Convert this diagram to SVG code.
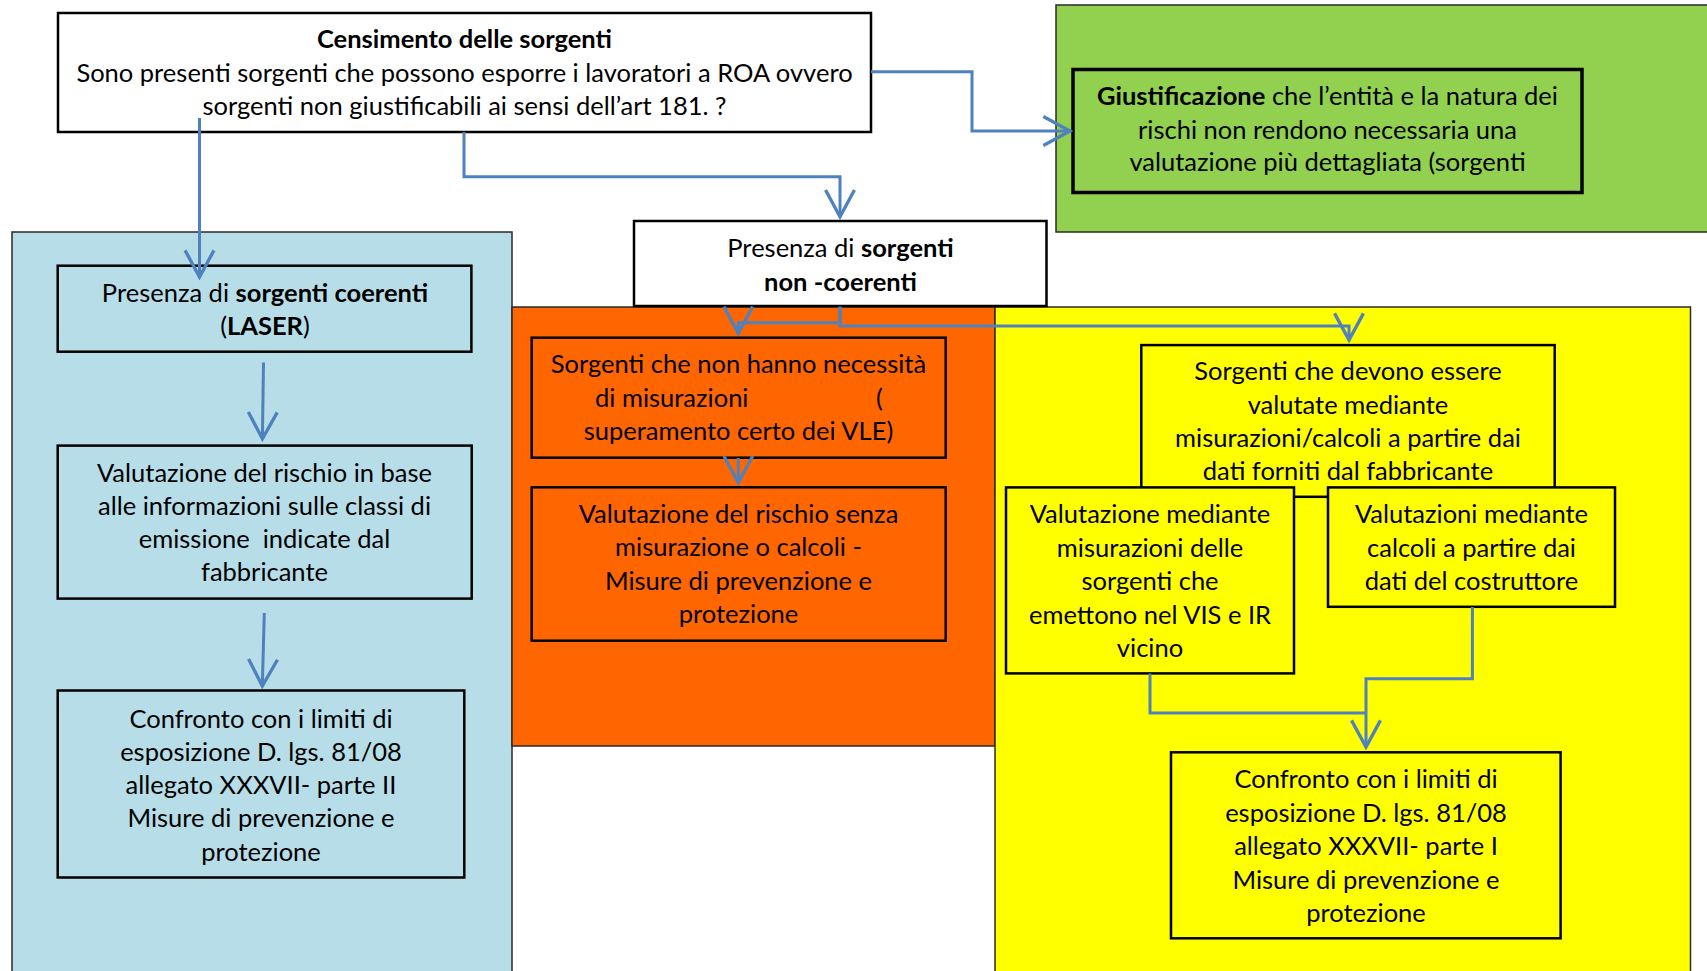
<svg xmlns="http://www.w3.org/2000/svg" width="1707" height="971" viewBox="0 0 1707 971">
<style>
.panel{stroke:#2a2a2a;stroke-width:1.5}
.box{stroke:#000;stroke-width:2.5}
.t{font-family:Lato,"Liberation Sans",sans-serif;font-size:25.5px;fill:#000;text-anchor:middle}
.b{font-weight:bold}
.c{fill:none;stroke:#4F81BD;stroke-width:3;marker-end:url(#ah)}
.cn{fill:none;stroke:#4F81BD;stroke-width:3}
</style>
<defs>
<marker id="ah" markerUnits="userSpaceOnUse" markerWidth="40" markerHeight="40" viewBox="-4 -4 36 36" refX="24" refY="13" orient="auto">
<path d="M0,0 L24,13 L0,26" fill="none" stroke="#4F81BD" stroke-width="3"/>
</marker>
</defs>
<rect x="0" y="0" width="1707" height="971" fill="#fff"/>
<g id="panels">
<rect class="panel" x="12" y="232" width="500" height="745" fill="#B7DEE8"/>
<rect class="panel" x="512" y="307" width="483" height="439" fill="#FF6600"/>
<rect class="panel" x="995" y="307" width="695.5" height="670" fill="#FFFF00"/>
<rect class="panel" x="1056" y="5" width="670" height="227" fill="#92D050"/>
</g>
<g id="n-censimento">
<rect class="box" x="58" y="13" width="813" height="119" fill="#fff"/>
<text class="t"><tspan class="b" x="464.5" y="47.5">Censimento delle sorgenti</tspan><tspan x="464.5" y="81.5">Sono presenti sorgenti che possono esporre i lavoratori a ROA ovvero</tspan><tspan x="464.5" y="114.5">sorgenti non giustificabili ai sensi dell’art 181. ?</tspan></text>
</g>
<g id="n-giustificazione">
<rect x="1073" y="69.5" width="509" height="123" fill="#92D050" stroke="#000" stroke-width="3.5"/>
<text class="t"><tspan x="1327.5" y="105"><tspan class="b">Giustificazione</tspan> che l’entità e la natura dei</tspan><tspan x="1327.5" y="138.5">rischi non rendono necessaria una</tspan><tspan x="1327.5" y="171">valutazione più dettagliata (sorgenti</tspan></text>
</g>
<g id="n-coerenti">
<rect class="box" x="57.7" y="265.7" width="413.7" height="86" fill="#B7DEE8"/>
<text class="t"><tspan x="265" y="301.5">Presenza di <tspan class="b">sorgenti coerenti</tspan></tspan><tspan x="265" y="334.5">(<tspan class="b">LASER</tspan>)</tspan></text>
</g>
<g id="n-valutazione-classi">
<rect class="box" x="57.7" y="445.6" width="414" height="153" fill="#B7DEE8"/>
<text class="t" xml:space="preserve"><tspan x="264.5" y="481.5">Valutazione del rischio in base</tspan><tspan x="264.5" y="514.5">alle informazioni sulle classi di</tspan><tspan x="264.5" y="548">emissione  indicate dal</tspan><tspan x="264.5" y="581">fabbricante</tspan></text>
</g>
<g id="n-confronto-II">
<rect class="box" x="57.7" y="690.5" width="406.6" height="187" fill="#B7DEE8"/>
<text class="t"><tspan x="261" y="727.5">Confronto con i limiti di</tspan><tspan x="261" y="760.5">esposizione D. lgs. 81/08</tspan><tspan x="261" y="794">allegato XXXVII- parte II</tspan><tspan x="261" y="827">Misure di prevenzione e</tspan><tspan x="261" y="860.5">protezione</tspan></text>
</g>
<g id="n-noncoerenti">
<rect class="box" x="634" y="221" width="412.5" height="85" fill="#fff"/>
<text class="t"><tspan x="840.5" y="256.5">Presenza di <tspan class="b">sorgenti</tspan></tspan><tspan class="b" x="840.5" y="290.5">non -coerenti</tspan></text>
</g>
<g id="n-senza-misurazioni">
<rect class="box" x="531.7" y="337.7" width="414" height="120" fill="#FF6600"/>
<text class="t"><tspan x="738.5" y="373.3">Sorgenti che non hanno necessità</tspan><tspan x="595" y="406.7" style="text-anchor:start">di misurazioni</tspan><tspan x="876" y="406.7" style="text-anchor:start">(</tspan><tspan x="738.5" y="440">superamento certo dei VLE)</tspan></text>
</g>
<g id="n-valutazione-senza">
<rect class="box" x="531.7" y="487.3" width="414" height="153.4" fill="#FF6600"/>
<text class="t"><tspan x="738.5" y="522.7">Valutazione del rischio senza</tspan><tspan x="738.5" y="556.3">misurazione o calcoli -</tspan><tspan x="738.5" y="589.7">Misure di prevenzione e</tspan><tspan x="738.5" y="623">protezione</tspan></text>
</g>
<g id="n-devono">
<rect class="box" x="1141.3" y="345.1" width="413.4" height="151.7" fill="#FFFF00"/>
<text class="t"><tspan x="1348" y="380">Sorgenti che devono essere</tspan><tspan x="1348" y="413.5">valutate mediante</tspan><tspan x="1348" y="446.5">misurazioni/calcoli a partire dai</tspan><tspan x="1348" y="479.5">dati forniti dal fabbricante</tspan></text>
</g>
<g id="n-misurazioni">
<rect class="box" x="1006" y="487.4" width="288" height="186" fill="#FFFF00"/>
<text class="t"><tspan x="1150" y="523">Valutazione mediante</tspan><tspan x="1150" y="556.5">misurazioni delle</tspan><tspan x="1150" y="590">sorgenti che</tspan><tspan x="1150" y="623.5">emettono nel VIS e IR</tspan><tspan x="1150" y="657">vicino</tspan></text>
</g>
<g id="n-calcoli">
<rect class="box" x="1328" y="487.4" width="287" height="119.4" fill="#FFFF00"/>
<text class="t"><tspan x="1471.5" y="523">Valutazioni mediante</tspan><tspan x="1471.5" y="556.5">calcoli a partire dai</tspan><tspan x="1471.5" y="590">dati del costruttore</tspan></text>
</g>
<g id="n-confronto-I">
<rect class="box" x="1171" y="752.3" width="389.6" height="186" fill="#FFFF00"/>
<text class="t"><tspan x="1366" y="788">Confronto con i limiti di</tspan><tspan x="1366" y="821.5">esposizione D. lgs. 81/08</tspan><tspan x="1366" y="855">allegato XXXVII- parte I</tspan><tspan x="1366" y="889">Misure di prevenzione e</tspan><tspan x="1366" y="922">protezione</tspan></text>
</g>
<g id="connectors">
<path class="c" d="M199.5,118 L199.5,277"/>
<path class="c" d="M464,132 L464,176.7 L840,176.7 L840,216.7"/>
<path class="c" d="M871,71.7 L972,71.7 L972,131 L1070,131"/>
<path class="c" d="M263.5,362.5 L262.4,438.8"/>
<path class="c" d="M264.3,613 L262.3,686"/>
<path class="c" d="M840,306.7 L840,322.7 L738.3,322.7 L738.3,333.3"/>
<path class="c" d="M840,306.7 L840,326 L1349,326 L1349,340"/>
<path class="c" d="M738.3,458 L738.3,482.7"/>
<path class="cn" d="M1150,673.4 L1150,713 L1366,713"/>
<path class="c" d="M1472.4,607 L1472.4,678.7 L1366,678.7 L1366,747"/>
</g>
</svg>
